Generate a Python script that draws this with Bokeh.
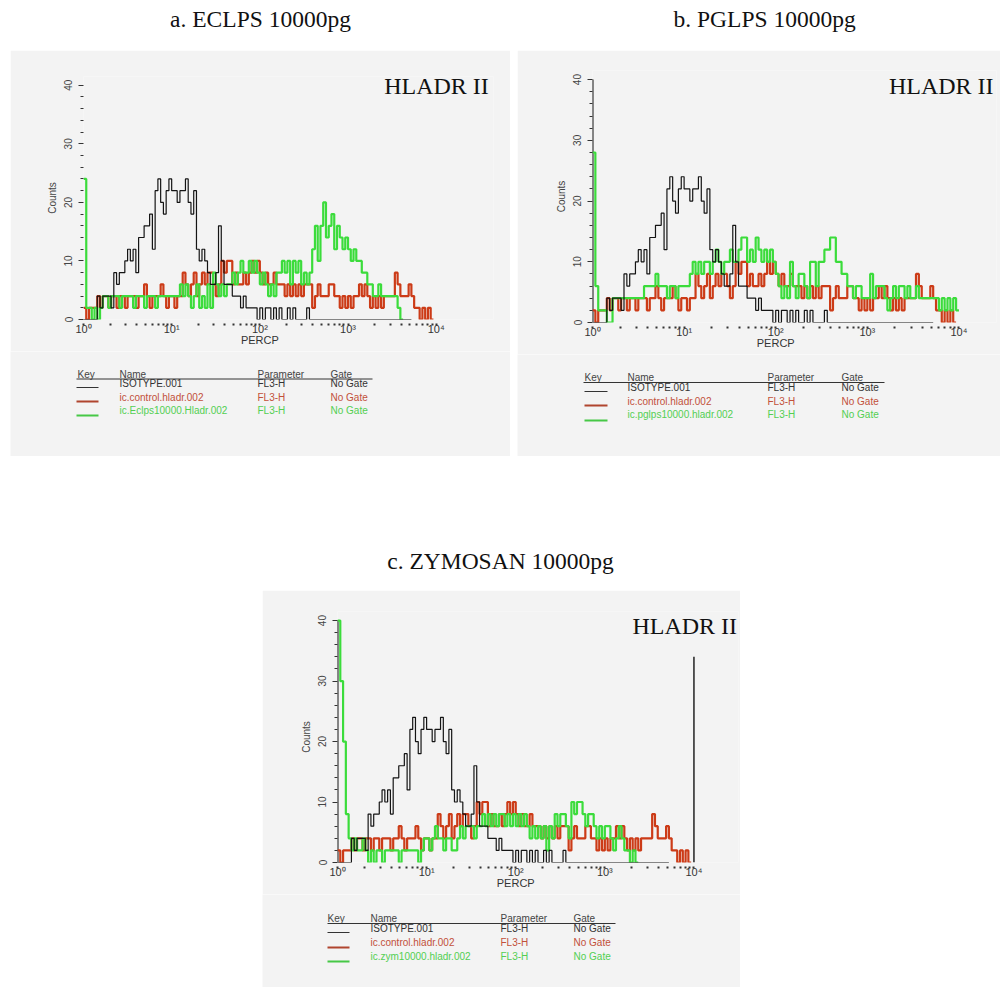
import numpy as np
from bokeh.plotting import figure
from bokeh.layouts import column, row, Spacer
from bokeh.models import Range1d, Label, FixedTicker
from bokeh.core.properties import value
from bokeh.embed import file_html
from bokeh.resources import INLINE

# Histogram channels: 32 channels per log decade, starting at 10^0
CHANNELS_PER_DECADE = 32

# ISOTYPE.001 (same file overlaid in every panel)
isotype = [0, 0, 0, 0, 0, 4, 2, 4, 4, 4,
           2, 8, 6, 8, 8, 10, 12, 10, 12, 8,
           14, 14, 16, 16, 18, 12, 22, 24, 20, 18,
           22, 24, 22, 22, 20, 22, 22, 24, 20, 18,
           22, 12, 10, 12, 10, 8, 6, 6, 8, 16,
           10, 6, 6, 6, 4, 4, 4, 2, 4, 2,
           2, 2, 2, 0, 2, 0, 2, 2, 0, 2,
           0, 2, 0, 0, 2, 0, 2, 0, 0, 0,
           0, 2, 0, 0, 0, 0, 0, 0, 0, 0,
           0, 0, 0, 0, 0, 0, 0, 0, 0, 0,
           0, 0, 0, 0, 0, 0, 0, 0, 0, 0,
           0, 0, 0, 0, 0, 0, 0, 0, 0]

# ic.control.hladr.002 (same file overlaid in every panel)
control = [2, 0, 2, 2, 2, 4, 2, 4, 4, 2,
           4, 4, 2, 4, 4, 2, 4, 4, 4, 2,
           4, 4, 6, 4, 2, 4, 4, 4, 6, 4,
           2, 4, 4, 2, 4, 4, 8, 6, 4, 6,
           8, 4, 6, 8, 6, 8, 8, 6, 4, 6,
           10, 8, 10, 10, 6, 8, 6, 6, 8, 6,
           8, 10, 8, 10, 8, 6, 8, 6, 6, 8,
           6, 6, 6, 4, 6, 4, 6, 4, 6, 4,
           6, 6, 6, 2, 4, 6, 4, 4, 4, 6,
           6, 4, 4, 2, 4, 2, 4, 2, 4, 4,
           6, 4, 6, 4, 2, 4, 2, 4, 2, 4,
           4, 4, 4, 8, 6, 4, 4, 4, 6, 4,
           2, 2, 0, 2, 0, 2, 0]

# ic.Eclps10000.Hladr.002
eclps = [24, 2, 2, 0, 2, 0, 2, 4, 4, 2,
         4, 4, 4, 2, 4, 4, 4, 4, 2, 4,
         4, 4, 2, 4, 4, 4, 2, 4, 4, 4,
         4, 4, 4, 4, 4, 6, 4, 6, 4, 2,
         4, 6, 2, 4, 2, 6, 2, 8, 6, 4,
         6, 4, 6, 6, 8, 6, 8, 10, 8, 8,
         10, 8, 10, 8, 6, 8, 6, 4, 6, 4,
         8, 8, 10, 8, 10, 6, 10, 8, 10, 6,
         8, 6, 8, 12, 16, 10, 16, 20, 14, 16,
         18, 12, 16, 14, 12, 14, 12, 10, 12, 10,
         10, 8, 8, 6, 6, 4, 4, 6, 4, 4,
         4, 4, 4, 4, 2, 0]

# ic.pglps10000.hladr.002
pglps = [28, 6, 2, 2, 2, 0, 0, 4, 4, 4,
         4, 4, 4, 4, 4, 4, 4, 4, 6, 6,
         6, 6, 8, 6, 6, 6, 4, 6, 6, 4,
         6, 6, 6, 6, 8, 10, 8, 10, 8, 10,
         10, 8, 10, 12, 10, 8, 10, 10, 12, 10,
         10, 12, 14, 14, 10, 12, 10, 14, 12, 10,
         12, 10, 12, 10, 8, 6, 4, 6, 4, 10,
         6, 4, 8, 8, 6, 4, 10, 10, 6, 10,
         10, 12, 12, 14, 14, 10, 10, 8, 8, 6,
         6, 4, 6, 6, 4, 4, 4, 8, 4, 6,
         6, 6, 4, 2, 4, 6, 4, 6, 6, 4,
         6, 4, 4, 6, 4, 4, 4, 4, 4, 4,
         4, 2, 4, 2, 4, 2, 4, 2]

# ic.zym10000.hladr.002
zym = [40, 30, 20, 8, 4, 2, 4, 2, 2, 4,
       2, 0, 2, 0, 2, 2, 0, 2, 2, 2,
       2, 2, 0, 2, 2, 2, 2, 2, 2, 0,
       2, 4, 4, 2, 4, 6, 4, 4, 2, 4,
       4, 2, 2, 4, 6, 4, 6, 6, 6, 4,
       6, 6, 8, 6, 8, 6, 8, 6, 8, 8,
       6, 8, 6, 8, 6, 8, 6, 8, 6, 4,
       6, 4, 6, 4, 6, 2, 6, 4, 8, 6,
       8, 8, 6, 4, 10, 8, 10, 10, 8, 6,
       8, 8, 6, 4, 6, 4, 6, 6, 4, 2,
       4, 6, 4, 2, 2, 0, 2, 0]

# Marker bar drawn at the top of the scale in the zymosan panel
marker_x = [10000]
marker_top = [34]

x_major = [1, 10, 100, 1000, 10000]
x_major_labels = ["10\u2070", "10\u00b9", "10\u00b2\nPERCP", "10\u00b3", "10\u2074"]
x_minor = [m * 10 ** d for d in range(4) for m in range(2, 10)]

y_major = [0, 10, 20, 30, 40]
y_minor = [v for v in range(0, 41, 2) if v % 10]
y_axis_extent = [0, 40]

key_header = ["Key", "Name", "Parameter", "Gate"]
isotype_name = "ISOTYPE.001"
control_name = "ic.control.hladr.002"
parameter_name = "FL3-H"
gate_name = "No Gate"

GREY = "#f3f3f3"
BLACK = "#141414"
RED = "#cc3b17"
GREEN = "#3bdc3b"
SANS = "Liberation Sans"
SERIF = "Liberation Serif"


def unaligned(p):
    # keep every figure's frame exactly where its own borders put it
    if "frame_align" in p.properties():
        p.frame_align = False
    return p


def steps(counts):
    n = len(counts)
    xs = 10 ** (np.arange(n + 1) / CHANNELS_PER_DECADE)
    ys = list(counts) + [counts[-1]]
    return xs, ys


def title_figure(width, height, text, cx, cy):
    p = figure(width=width, height=height, x_range=Range1d(0, width),
               y_range=Range1d(height, 0), output_backend="svg",
               toolbar_location=None, min_border=0,
               x_axis_location=None, y_axis_location=None)
    p.outline_line_color = None
    p.grid.visible = False
    p.background_fill_color = "white"
    p.border_fill_color = "white"
    p.text(x=[cx], y=[cy], text=[text], text_font=value(SERIF),
           text_font_size=value("23.5px"), text_color="#111111",
           text_align="center", text_baseline="middle")
    return unaligned(p)


def hist_figure(width, height, borders, x_end, green, label_xy, y_line=True,
                marker=False):
    left, right, top, bottom = borders
    p = figure(width=width, height=height, x_axis_type="log",
               x_range=Range1d(1, x_end), y_range=Range1d(0, 41.5),
               output_backend="svg", toolbar_location=None,
               min_border_left=left, min_border_right=right,
               min_border_top=top, min_border_bottom=bottom)
    p.background_fill_color = GREY
    p.border_fill_color = GREY
    p.outline_line_color = None
    p.grid.visible = False

    xa = p.xaxis[0]
    xa.ticker = FixedTicker(ticks=x_major, minor_ticks=x_minor)
    xa.major_label_overrides = dict(zip(x_major, x_major_labels))
    xa.axis_line_color = None
    xa.major_tick_in = -4
    xa.major_tick_out = 6
    xa.minor_tick_in = -4
    xa.minor_tick_out = 6
    xa.major_tick_line_width = 2
    xa.minor_tick_line_width = 2
    xa.major_tick_line_color = "#333333"
    xa.minor_tick_line_color = "#333333"
    xa.major_label_standoff = -3
    xa.major_label_text_font = SANS
    xa.major_label_text_font_size = "11px"
    xa.major_label_text_color = "#333333"
    xa.major_label_text_line_height = 0.95

    ya = p.yaxis[0]
    ya.ticker = FixedTicker(ticks=y_major, minor_ticks=y_minor)
    ya.axis_line_color = None
    ya.major_tick_in = 0
    ya.major_tick_out = 5
    ya.minor_tick_in = 0
    ya.minor_tick_out = 3
    ya.major_tick_line_color = "#333333"
    ya.minor_tick_line_color = "#333333"
    ya.major_label_orientation = "vertical"
    ya.major_label_standoff = 6
    ya.major_label_text_font = SANS
    ya.major_label_text_font_size = "10px"
    ya.major_label_text_color = "#444444"
    ya.axis_label = "Counts"
    ya.axis_label_standoff = 4
    ya.axis_label_text_font = SANS
    ya.axis_label_text_font_size = "10px"
    ya.axis_label_text_font_style = "normal"
    ya.axis_label_text_color = "#444444"

    if y_line:
        # vertical axis rule running from 0 to the top of the count scale
        p.segment(x0=[1], y0=[y_axis_extent[0]], x1=[1], y1=[y_axis_extent[1]],
                  line_color=BLACK, line_width=2)

    for counts, color, lw in ((control, RED, 2.2), (green, GREEN, 2.2),
                              (isotype, BLACK, 1.2)):
        xs, ys = steps(counts)
        p.step(xs, ys, mode="after", line_color=color, line_width=lw)

    if marker:
        p.segment(x0=marker_x, y0=[0], x1=marker_x, y1=marker_top,
                  line_color="#222222", line_width=1.5)

    p.add_layout(Label(x=label_xy[0], y=label_xy[1], text="HLADR II",
                       text_align="right", text_baseline="alphabetic",
                       text_font=SERIF, text_font_size="24px",
                       text_color="#111111"))
    return unaligned(p)


def key_figure(width, height, green_name, cols, header_y, rule, rows_y,
               lines_y, line_x):
    p = figure(width=width, height=height, x_range=Range1d(0, width),
               y_range=Range1d(height, 0), output_backend="svg",
               toolbar_location=None, min_border=0,
               x_axis_location=None, y_axis_location=None)
    p.outline_line_color = None
    p.grid.visible = False
    p.background_fill_color = GREY
    p.border_fill_color = GREY

    p.text(x=cols, y=[header_y] * 4, text=key_header, text_font=value(SANS),
           text_font_size=value("10px"), text_color="#444444",
           text_align="left", text_baseline="middle")
    p.segment(x0=[rule[0]], y0=[rule[2]], x1=[rule[1]], y1=[rule[2]],
              line_color="#333333", line_width=1)

    names = [isotype_name, control_name, green_name]
    text_colors = ["#333333", "#c2503a", "#52cf52"]
    line_colors = ["#333333", "#b0452e", "#46c846"]
    line_widths = [1, 2, 2]
    for name, ty, ly, tc, lc, lw in zip(names, rows_y, lines_y, text_colors,
                                        line_colors, line_widths):
        p.text(x=cols[1:], y=[ty] * 3, text=[name, parameter_name, gate_name],
               text_font=value(SANS), text_font_size=value("10px"),
               text_color=tc, text_align="left", text_baseline="middle")
        p.segment(x0=[line_x[0]], y0=[ly], x1=[line_x[1]], y1=[ly],
                  line_color=lc, line_width=lw)
    return unaligned(p)


# Panel a: E. coli LPS
title_a = title_figure(500, 50, "a. ECLPS 10000pg", 250, 18)
hist_a = hist_figure(500, 301, (73, 17, 26, 32), 10 ** 4.65, eclps,
                     (10 ** 4.597, 39.8), y_line=False)
key_a = key_figure(500, 105, "ic.Eclps10000.Hladr.002", [67, 109, 247, 320],
                   22.5, (66, 362, 27.5), [31.5, 45.5, 59], [36, 50, 64], (66, 88))

# Panel b: P. gingivalis LPS
title_b = title_figure(483, 50, "b.  PGLPS 10000pg", 250, 18)
hist_b = hist_figure(483, 304, (75, 4, 20, 32), 10 ** 4.41, pglps,
                     (10 ** 4.378, 39.0))
key_b = key_figure(483, 102, "ic.pglps10000.hladr.002", [67, 110, 250, 324],
                   23, (66, 367, 28), [32.5, 47, 60], [37, 51, 66], (67, 90))

# Panel c: zymosan
title_c = title_figure(478, 60, "c. ZYMOSAN 10000pg", 238, 30)
hist_c = hist_figure(478, 304, (75, 2, 21, 32), 10 ** 4.5, zym,
                     (10 ** 4.484, 39.1), marker=True)
key_c = key_figure(478, 93, "ic.zym10000.hladr.002", [65, 108, 238, 311],
                   23.5, (65, 353, 29), [33.5, 48, 62], [38, 53, 67], (65, 87))

top_row = row(Spacer(width=10), column(title_a, hist_a, key_a),
              Spacer(width=7), column(title_b, hist_b, key_b))
bottom_row = row(Spacer(width=262), column(title_c, hist_c, key_c))
page = column(top_row, Spacer(height=74), bottom_row)

open("out.html", "w").write(file_html(page, INLINE))
